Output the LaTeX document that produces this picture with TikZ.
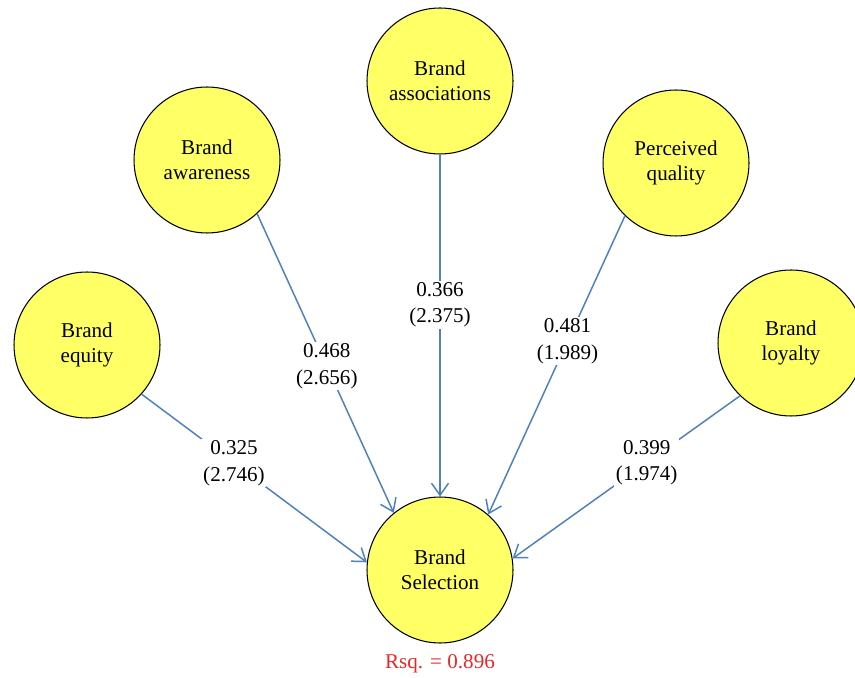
\documentclass[tikz,border=0pt]{standalone}
\usepackage{fontspec}
\setmainfont{Liberation Serif}
\usetikzlibrary{arrows.meta}
\definecolor{latentfill}{RGB}{255,255,102}
\definecolor{pathblue}{RGB}{79,129,189}
\definecolor{rsqred}{RGB}{230,40,40}
\tikzstyle{latent}=[draw=black, line width=0.6pt, fill=latentfill, circle,
    minimum size=2.92cm, inner sep=0pt, align=center, font=\fontsize{12}{14.5}\selectfont]
\tikzstyle{coef} = [fill=white, inner sep=1pt, align=center,
    font=\fontsize{12}{15}\selectfont]
\tikzstyle{pathlink} = [draw=pathblue, line width=0.85pt,
    -{Straight Barb[length=2.4mm, width=3.4mm]}]

\begin{document}
\begin{tikzpicture}[x=0.02cm, y=-0.02cm]
    \useasboundingbox (0,0) rectangle (855,678);
    \node (assoc) [latent] at (440,81) {Brand\\associations};
    \node (aware) [latent] at (207,160) {Brand\\awareness};
    \node (quality) [latent] at (676,163) {Perceived\\quality};
    \node (equity) [latent] at (87,345) {Brand\\equity};
    \node (loyalty) [latent] at (791,343) {Brand\\loyalty};
    \node (select) [latent] at (440,570) {Brand\\Selection};
    \node (rsq) [text=rsqred, font=\fontsize{12}{14.5}\selectfont] at (440,664) {Rsq. = 0.896};
    \path [pathlink] (equity.-42) -- node [coef, pos=0.41] {0.325\\(2.746)} (select.174);
    \path [pathlink] (aware.-47) -- node [coef, pos=0.51] {0.468\\(2.656)} (select.129);
    \path [pathlink] (assoc.south) -- node [coef, pos=0.44] {0.366\\(2.375)} (select.north);
    \path [pathlink] (quality.-134) -- node [coef, pos=0.42] {0.481\\(1.989)} (select.49);
    \path [pathlink] (loyalty.-134) -- node [coef, pos=0.41] {0.399\\(1.974)} (select.9);
\end{tikzpicture}
\end{document}
